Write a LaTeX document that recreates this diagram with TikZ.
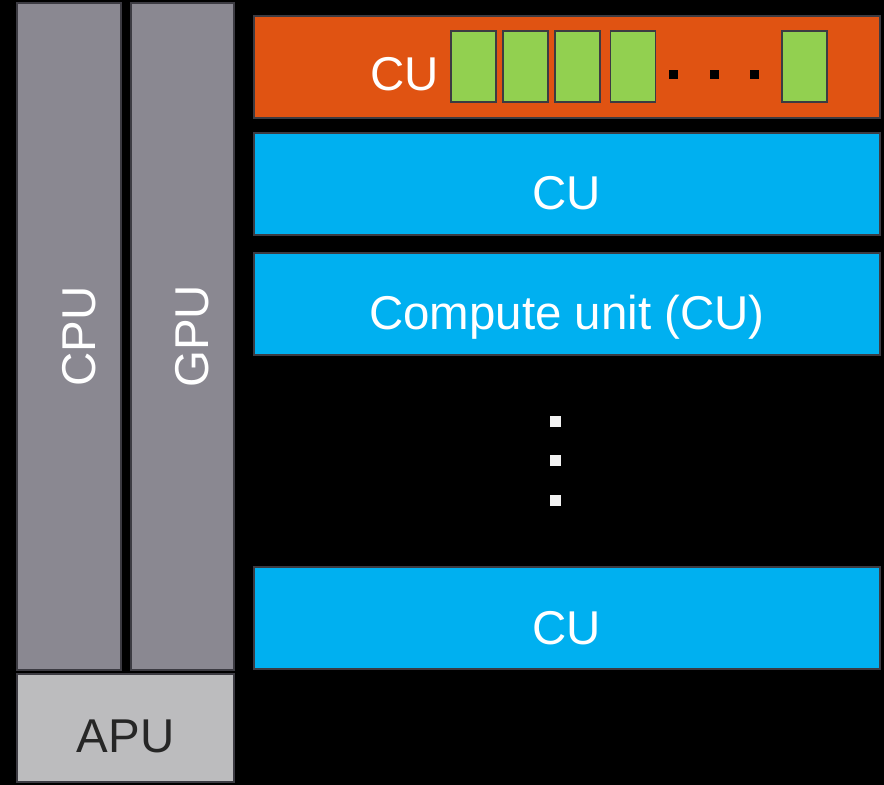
\documentclass[tikz,border=0pt]{standalone}
\usepackage{fontspec}
\setmainfont{Liberation Sans}
\usepackage{tikz}
\usetikzlibrary{positioning}

\definecolor{edgegray}{HTML}{3C3B42}
\definecolor{coregray}{HTML}{8A8891}
\definecolor{apugray}{HTML}{BCBCBE}
\definecolor{cuorange}{HTML}{E05312}
\definecolor{cublue}{HTML}{00B0F0}
\definecolor{pegreen}{HTML}{92D050}

\begin{document}
\begin{tikzpicture}[x=0.2mm, y=-0.2mm,
  txt/.style={inner sep=0pt, font=\fontsize{27}{32}\selectfont, text=white},
  block/.style={txt, draw=edgegray, line width=0.8pt,
                text height=10.4mm, text depth=0pt},
  core/.style={block, fill=coregray, minimum width=133.4mm},
  unit/.style={block, fill=cublue, minimum width=125.2mm, minimum height=20.4mm},
  pe/.style={draw=edgegray, line width=0.8pt, fill=pegreen,
             minimum width=9mm, minimum height=14.2mm, inner sep=0pt}]
\fill[black] (0,0) rectangle (884,785);
% host side
\node[core, rotate=90, minimum height=20.8mm] (cpu) at (69,336.5) {CPU};
\node[core, rotate=90, minimum height=20.6mm] (gpu) at (182.5,336.5) {GPU};
\node[block, fill=apugray, text=black!85, text height=9.6mm, minimum width=43.4mm,
      minimum height=21.6mm] (apu) at (125.5,728) {APU};
% compute units
\node[unit, fill=cuorange] (cu0) at (567,67) {};
\node[txt] (cu0txt) at (405,74) {CU};
\node[pe] (pe1) at (473.5,66.5) {};
\node[pe, right=1.1mm of pe1] (pe2) {};
\node[pe, right=1.1mm of pe2] (pe3) {};
\node[pe, right=1.9mm of pe3] (pe4) {};
\node[pe] (pen) at (804.5,66.5) {};
\foreach \x in {673,714,754}
  \fill[black] (\x-4.5,70.5) rectangle (\x+4.5,79.5);
\node[unit] (cu1) at (567,184) {CU};
\node[unit] (cu2) at (567,304) {Compute unit (CU)};
\foreach \y in {422,461,500}
  \fill[white!95!black] (549.5,\y-5.5) rectangle (560.5,\y+5.5);
\node[unit] (cun) at (567,618) {CU};
\end{tikzpicture}
\end{document}
